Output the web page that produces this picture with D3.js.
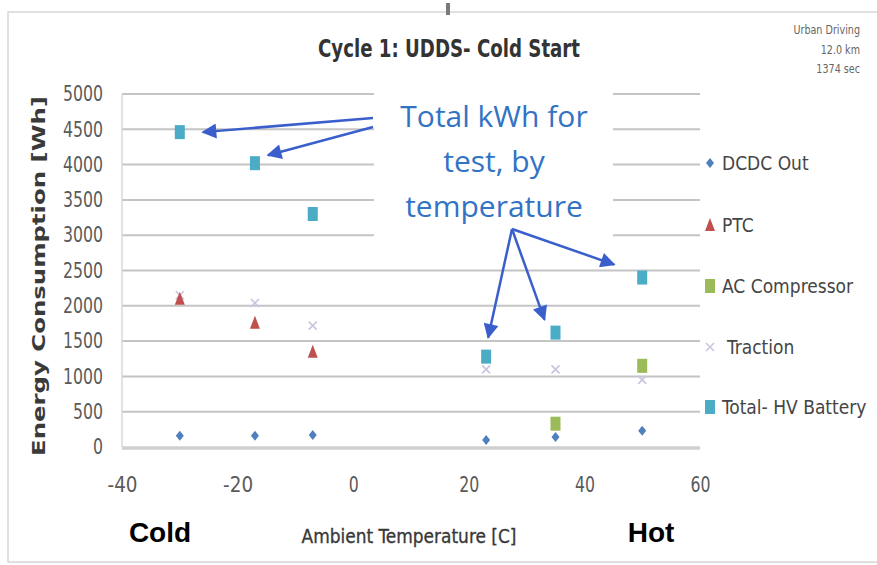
<!DOCTYPE html>
<html>
<head>
<meta charset="utf-8">
<script src="https://cdn.jsdelivr.net/npm/d3@7"></script>
<style>
  html, body { margin: 0; padding: 0; background: #fff; }
  svg { display: block; }
  .narrow { font-family: "Liberation Sans Narrow", "DejaVu Sans Condensed", "Liberation Sans", sans-serif; }
</style>
</head>
<body>
<svg id="chart" width="877" height="565"></svg>
<script>
// ---- data: energy use per subsystem vs ambient temperature (UDDS cold start) ----
const dcdcTemps = [-30, -17, -7, 23, 35, 50];
const dcdcValues = [160, 160, 170, 100, 140, 230];

const ptcTemps = [-30, -17, -7];
const ptcValues = [2100, 1760, 1350];

const acTemps = [35, 50];
const acValues = [330, 1150];

const tractionTemps = [-30, -17, -7, 23, 35, 50];
const tractionValues = [2150, 2040, 1720, 1100, 1100, 950];

const totalTemps = [-30, -17, -7, 23, 35, 50];
const totalValues = [4460, 4020, 3300, 1280, 1620, 2400];

const seriesNames = ["DCDC Out", "PTC", "AC Compressor", "Traction", "Total- HV Battery"];
const xTicks = [-40, -20, 0, 20, 40, 60];
const yTicks = [0, 500, 1000, 1500, 2000, 2500, 3000, 3500, 4000, 4500, 5000];
const infoLines = ["Urban Driving", "12.0 km", "1374 sec"];
const calloutLines = ["Total kWh for", "test, by", "temperature"];

// ---- layout ----
const svg = d3.select("#chart");
const x = d3.scaleLinear().domain([-40, 60]).range([122, 700]);
const y = d3.scaleLinear().domain([0, 5000]).range([447, 94]);

const colors = {
  "DCDC Out": "#4f7fbd",
  "PTC": "#c0504d",
  "AC Compressor": "#9bbb59",
  "Traction": "#c9c4e0",
  "Total- HV Battery": "#4bacc6"
};

// squeeze a text selection horizontally to get a condensed face
function condense(sel, k) {
  sel.each(function () {
    const w = this.getComputedTextLength();
    d3.select(this).attr("textLength", w * k).attr("lengthAdjust", "spacingAndGlyphs");
  });
}

// chart frame
svg.append("rect").attr("x", 8).attr("y", 12).attr("width", 880).attr("height", 550)
  .attr("fill", "none").attr("stroke", "#d6d6d6").attr("stroke-width", 1.5);
svg.append("rect").attr("x", 446).attr("y", 3).attr("width", 4).attr("height", 12).attr("fill", "#7a7a7a");

// horizontal gridlines
svg.append("g").selectAll("line").data(yTicks.filter(d => d > 0)).join("line")
  .attr("x1", x(-40)).attr("x2", x(60))
  .attr("y1", d => y(d)).attr("y2", d => y(d))
  .attr("stroke", "#c4c4c4").attr("stroke-width", 2);

// left axis line and bottom axis line
svg.append("line").attr("x1", x(-40)).attr("x2", x(-40)).attr("y1", y(5000)).attr("y2", y(0))
  .attr("stroke", "#d9d9d9").attr("stroke-width", 1.5);
svg.append("line").attr("x1", x(-40)).attr("x2", x(60)).attr("y1", y(0) + 1).attr("y2", y(0) + 1)
  .attr("stroke", "#cfcfcf").attr("stroke-width", 3.5);

// y axis tick labels
const yAxis = d3.axisLeft(y).tickValues(yTicks).tickSize(0).tickPadding(0).tickFormat(d => String(d));
const gy = svg.append("g").attr("transform", "translate(103,0)").call(yAxis);
gy.select(".domain").remove();
gy.selectAll("text").attr("class", "narrow").attr("font-size", 21).attr("fill", "#5a5a5a")
  .attr("font-family", null)
  .attr("textLength", function () { return this.textContent.length * 10; })
  .attr("lengthAdjust", "spacingAndGlyphs");

// x axis tick labels
const xAxis = d3.axisBottom(x).tickValues(xTicks).tickSize(0).tickPadding(0).tickFormat(d => String(d));
const gx = svg.append("g").attr("transform", "translate(0,477)").call(xAxis);
gx.select(".domain").remove();
gx.selectAll("text").attr("class", "narrow").attr("font-size", 21).attr("fill", "#5a5a5a")
  .attr("font-family", null)
  .attr("textLength", function () { return this.textContent.length * 10; })
  .attr("lengthAdjust", "spacingAndGlyphs");

// marker shapes
function drawMarker(g, name) {
  const c = colors[name];
  if (name === "DCDC Out") {
    g.append("path").attr("d", "M0,-5 L4,0 L0,5 L-4,0 Z").attr("fill", c);
  } else if (name === "PTC") {
    g.append("path").attr("d", "M0,-7 L5,6 L-5,6 Z").attr("fill", c);
  } else if (name === "AC Compressor" || name === "Total- HV Battery") {
    g.append("rect").attr("x", -5).attr("y", -7).attr("width", 10).attr("height", 14).attr("fill", c);
  } else if (name === "Traction") {
    g.append("path").attr("d", "M-4,-4 L4,4 M4,-4 L-4,4").attr("stroke", c)
      .attr("stroke-width", 1.6).attr("fill", "none");
  }
}

const series = [
  { name: "Traction", temps: tractionTemps, values: tractionValues },
  { name: "DCDC Out", temps: dcdcTemps, values: dcdcValues },
  { name: "PTC", temps: ptcTemps, values: ptcValues },
  { name: "AC Compressor", temps: acTemps, values: acValues },
  { name: "Total- HV Battery", temps: totalTemps, values: totalValues }
];

series.forEach(s => {
  const pts = s.temps.map((t, i) => ({ t, v: s.values[i] }));
  svg.append("g").selectAll("g").data(pts).join("g")
    .attr("transform", d => `translate(${x(d.t)},${y(d.v)})`)
    .each(function () { drawMarker(d3.select(this), s.name); });
});

// legend
const legendY = [163, 225, 286, 347, 407];
seriesNames.forEach((name, i) => {
  const g = svg.append("g").attr("transform", `translate(710,${legendY[i]})`);
  drawMarker(g, name);
  g.append("text").attr("class", "narrow").attr("x", name === "Traction" ? 17 : 12).attr("y", 7)
    .attr("font-size", 19).attr("fill", "#454545").text(name);
});

// title
svg.append("text").attr("class", "narrow").attr("x", 449).attr("y", 57).attr("text-anchor", "middle")
  .attr("font-size", 25).attr("font-weight", "bold").attr("fill", "#333")
  .attr("textLength", 262).attr("lengthAdjust", "spacingAndGlyphs")
  .text("Cycle 1: UDDS- Cold Start");

// drive-cycle info, top right
svg.append("g").selectAll("text").data(infoLines).join("text")
  .attr("class", "narrow").attr("x", 860).attr("y", (d, i) => 34 + i * 19.5)
  .attr("text-anchor", "end").attr("font-size", 13).attr("fill", "#666").text(d => d)
  .call(condense, 0.82);

// axis titles
svg.append("text").attr("transform", "translate(45,276) rotate(-90)").attr("text-anchor", "middle")
  .attr("font-family", "'DejaVu Sans', sans-serif").attr("font-weight", "bold").attr("font-size", 18)
  .attr("fill", "#3a3a3a").attr("textLength", 360).attr("lengthAdjust", "spacingAndGlyphs")
  .text("Energy Consumption [Wh]");

svg.append("text").attr("class", "narrow").attr("x", 409).attr("y", 543).attr("text-anchor", "middle")
  .attr("font-size", 19).attr("fill", "#383838").attr("stroke", "#383838").attr("stroke-width", 0.3)
  .attr("textLength", 215).attr("lengthAdjust", "spacingAndGlyphs")
  .text("Ambient Temperature [C]");

svg.append("text").attr("x", 160).attr("y", 542).attr("text-anchor", "middle")
  .attr("font-family", "'Liberation Sans', Arial, sans-serif").attr("font-weight", "bold")
  .attr("font-size", 28).attr("fill", "#000").text("Cold");
svg.append("text").attr("x", 651).attr("y", 542).attr("text-anchor", "middle")
  .attr("font-family", "'Liberation Sans', Arial, sans-serif").attr("font-weight", "bold")
  .attr("font-size", 28).attr("fill", "#000").text("Hot");

// callout box with arrows to the total-battery points
svg.append("rect").attr("x", 374).attr("y", 86).attr("width", 239).attr("height", 160).attr("fill", "#fff");
svg.append("g").selectAll("text").data(calloutLines).join("text")
  .attr("x", 494).attr("y", (d, i) => 127 + i * 45).attr("text-anchor", "middle")
  .attr("font-family", "'Open Sans', sans-serif").attr("font-size", 30).attr("fill", "#3273c4")
  .text(d => d);

svg.append("defs").append("marker").attr("id", "head")
  .attr("viewBox", "0 0 10 10").attr("refX", 9).attr("refY", 5)
  .attr("markerWidth", 7).attr("markerHeight", 6).attr("markerUnits", "strokeWidth")
  .attr("orient", "auto")
  .append("path").attr("d", "M0,0 L10,5 L0,10 Z").attr("fill", "#3a5fcd");

const ptByTemp = t => ({ px: x(t), py: y(totalValues[totalTemps.indexOf(t)]) });
const arrows = [
  { from: [373, 118], t: -30, dx: 23, dy: 0 },
  { from: [373, 127], t: -17, dx: 13, dy: -8 },
  { from: [512, 229], t: 23, dx: 2, dy: -19 },
  { from: [512, 229], t: 35, dx: -11, dy: -13 },
  { from: [512, 229], t: 50, dx: -28, dy: -13 }
];
svg.append("g").selectAll("line").data(arrows).join("line")
  .attr("x1", d => d.from[0]).attr("y1", d => d.from[1])
  .attr("x2", d => ptByTemp(d.t).px + d.dx).attr("y2", d => ptByTemp(d.t).py + d.dy)
  .attr("stroke", "#3a5fcd").attr("stroke-width", 2.5).attr("marker-end", "url(#head)");
</script>
</body>
</html>
